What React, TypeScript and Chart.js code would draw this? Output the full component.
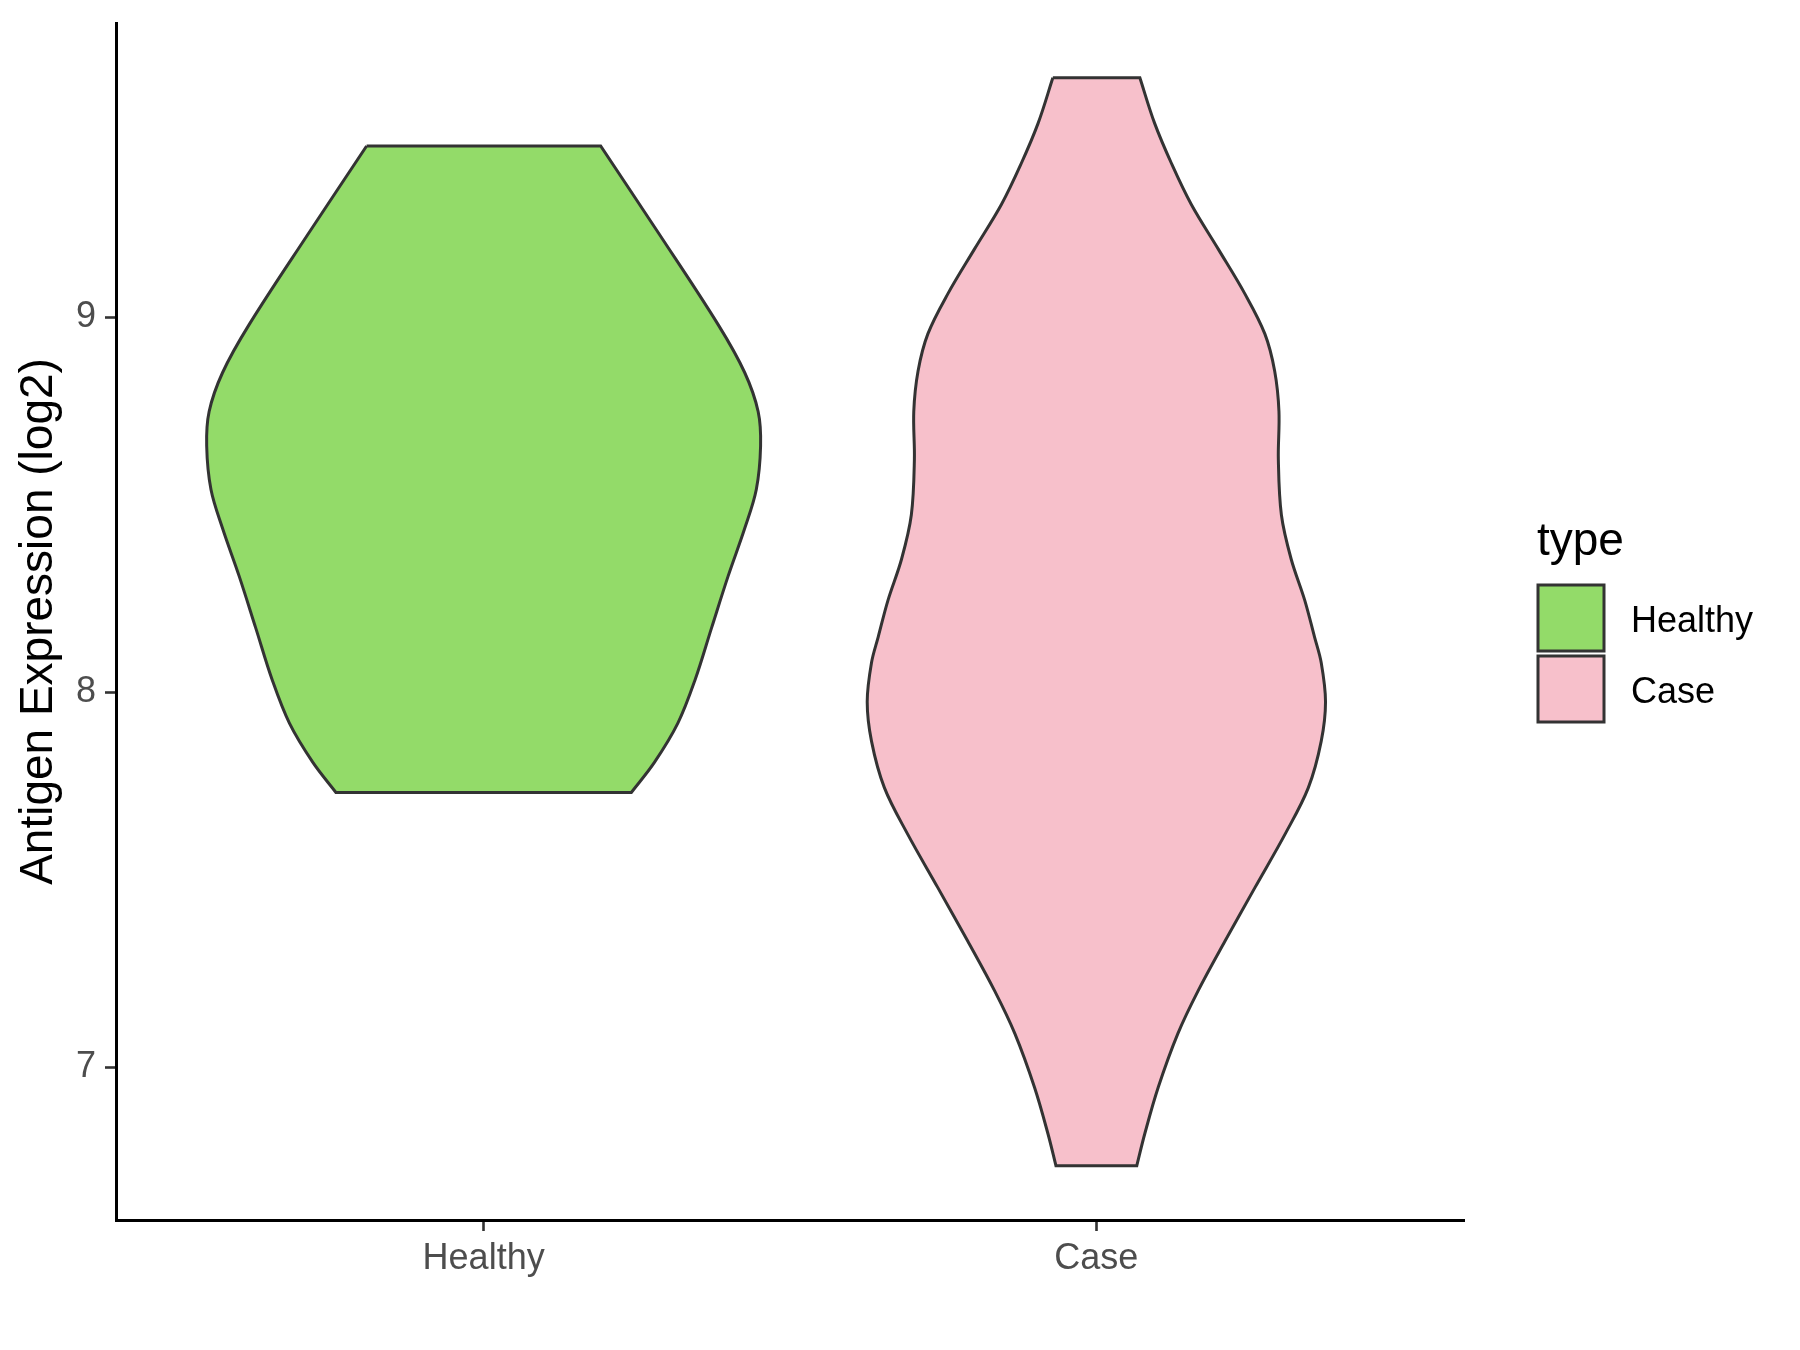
import React, { useEffect, useRef } from "react";
import { Chart, registerables } from "chart.js";

Chart.register(...registerables);

// ---- data ----
const categories = ["Healthy", "Case"];
const fillColors = ["#93DB69", "#F7C0CB"];
const yTickValues = [7, 8, 9];
const yTickLabels = ["7", "8", "9"];
const yAxisTitle = "Antigen Expression (log2)";
const legendTitle = "type";

// violin outlines: expression value and half-width (in category units)
const healthyY = [9.456, 9.22, 8.979, 8.852, 8.748, 8.656, 8.54, 8.436, 8.309, 8.171, 8.032, 7.917, 7.813, 7.732];
const healthyHalfWidth = [0.191, 0.287, 0.383, 0.426, 0.448, 0.452, 0.445, 0.426, 0.399, 0.372, 0.345, 0.317, 0.279, 0.241];
const caseY = [9.638, 9.517, 9.408, 9.3, 9.181, 9.063, 8.955, 8.856, 8.748, 8.62, 8.472, 8.354, 8.245, 8.147, 8.078, 7.974, 7.869, 7.745, 7.621, 7.479, 7.336, 7.203, 7.089, 6.946, 6.822, 6.737];
const caseHalfWidth = [0.071, 0.095, 0.123, 0.155, 0.199, 0.242, 0.275, 0.291, 0.298, 0.297, 0.302, 0.318, 0.34, 0.356, 0.367, 0.374, 0.367, 0.346, 0.308, 0.259, 0.21, 0.166, 0.133, 0.101, 0.079, 0.066];

const yMin = 6.592;
const yMax = 9.784;
const xMin = 0.4;
const xMax = 2.6;

const FONT = "'Liberation Sans', Arial, Helvetica, sans-serif";

function violinPoints(center: number, ys: number[], hw: number[]) {
  const n = ys.length;
  const left = ys.map((y, i) => ({ x: center - hw[i], y }));
  const right = ys.map((y, i) => ({ x: center + hw[i], y })).reverse();
  return [...left, left[n - 1], right[0], ...right, right[n - 1], left[0]];
}

const legendPlugin = {
  id: "ggLegend",
  afterDraw(chart: any) {
    const ctx = chart.ctx;
    const area = chart.chartArea;
    const x0 = area.right + 74;
    ctx.save();
    ctx.fillStyle = "#000000";
    ctx.textAlign = "left";
    ctx.textBaseline = "alphabetic";
    ctx.font = `46px ${FONT}`;
    ctx.fillText(legendTitle, x0 - 1, 555);
    categories.forEach((c, i) => {
      const y = 585 + i * 71;
      ctx.fillStyle = fillColors[i];
      ctx.fillRect(x0, y, 66, 66);
      ctx.strokeStyle = "#333333";
      ctx.lineWidth = 3;
      ctx.strokeRect(x0, y, 66, 66);
      ctx.fillStyle = "#000000";
      ctx.font = `36px ${FONT}`;
      ctx.textBaseline = "middle";
      ctx.fillText(c, x0 + 93, y + 37);
    });
    ctx.restore();
  },
};

export default function App() {
  const ref = useRef<HTMLCanvasElement | null>(null);

  useEffect(() => {
    document.body.style.margin = "0";
    const canvas = ref.current;
    if (!canvas) return;
    const series = [
      violinPoints(1, healthyY, healthyHalfWidth),
      violinPoints(2, caseY, caseHalfWidth),
    ];
    const chart = new Chart(canvas, {
      type: "line",
      data: {
        datasets: series.map((pts, i) => ({
          label: categories[i],
          data: pts,
          fill: "shape",
          backgroundColor: fillColors[i],
          borderColor: "#333333",
          borderWidth: 3,
          pointRadius: 0,
          pointHoverRadius: 0,
          tension: 0.35,
        })),
      },
      options: {
        animation: false,
        responsive: false,
        devicePixelRatio: 1,
        layout: { padding: { left: 0, right: 336, top: 23, bottom: 0 } },
        plugins: {
          legend: { display: false },
          tooltip: { enabled: false },
        },
        scales: {
          x: {
            type: "linear",
            min: xMin,
            max: xMax,
            afterBuildTicks: (s: any) => {
              s.ticks = categories.map((_, i) => ({ value: i + 1 }));
            },
            afterFit: (s: any) => {
              s.height = 130;
              s.paddingLeft = 0;
              s.paddingRight = 0;
            },
            ticks: {
              callback: (v: any) => categories[Math.round(v) - 1] ?? "",
              color: "#4D4D4D",
              font: { size: 36, family: FONT },
              padding: 6,
              maxRotation: 0,
              autoSkip: false,
            },
            grid: {
              display: true,
              drawOnChartArea: false,
              drawTicks: true,
              tickLength: 11,
              tickWidth: 2.6,
              tickColor: "#333333",
            },
            border: { display: true, color: "#000000", width: 3 },
          },
          y: {
            type: "linear",
            min: yMin,
            max: yMax,
            afterBuildTicks: (s: any) => {
              s.ticks = yTickValues.map((v) => ({ value: v }));
            },
            afterFit: (s: any) => {
              s.width = 116;
              s.paddingTop = 0;
              s.paddingBottom = 0;
            },
            ticks: {
              callback: (v: any) => {
                const idx = yTickValues.indexOf(Math.round(v));
                return idx >= 0 ? yTickLabels[idx] : "";
              },
              color: "#4D4D4D",
              font: { size: 36, family: FONT },
              padding: 9,
            },
            grid: {
              display: true,
              drawOnChartArea: false,
              drawTicks: true,
              tickLength: 11,
              tickWidth: 2.6,
              tickColor: "#333333",
            },
            border: { display: true, color: "#000000", width: 3 },
            title: {
              display: true,
              text: yAxisTitle,
              color: "#000000",
              font: { size: 46, family: FONT },
              padding: { top: 12, bottom: 0 },
            },
          },
        },
      },
      plugins: [legendPlugin],
    } as any);
    return () => chart.destroy();
  }, []);

  return (
    <div style={{ position: "absolute", left: 0, top: 0, width: 1800, height: 1350, background: "#ffffff" }}>
      <canvas ref={ref} width={1800} height={1350} style={{ width: 1800, height: 1350, display: "block" }} />
    </div>
  );
}
